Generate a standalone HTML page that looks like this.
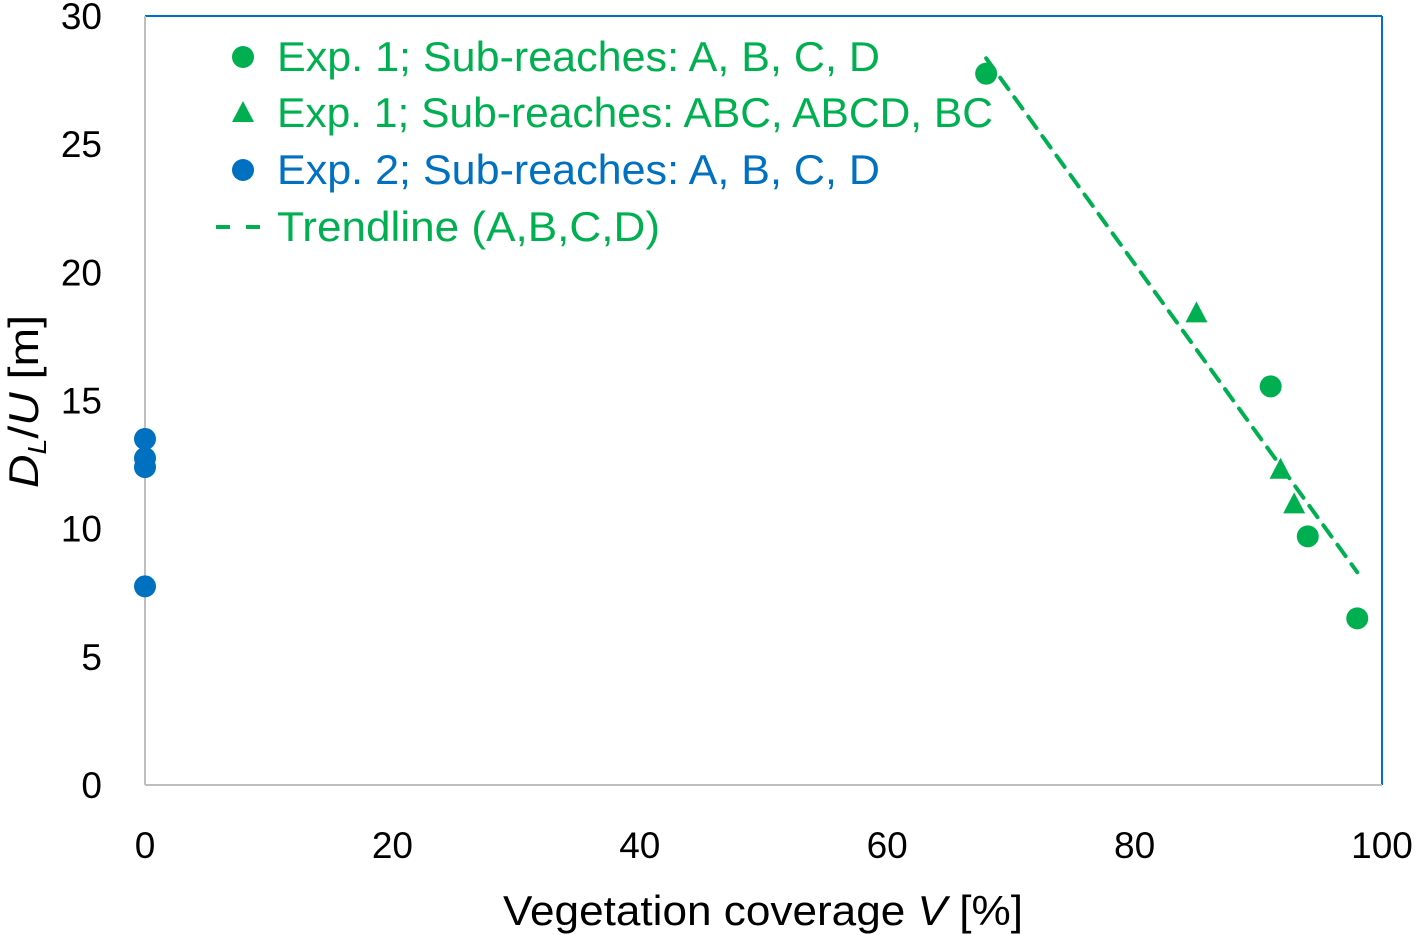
<!DOCTYPE html>
<html><head><meta charset="utf-8"><style>
body{margin:0;background:#fff;}
svg{display:block;font-family:"Liberation Sans",sans-serif;}
</style></head><body>
<svg id="chart" width="1416" height="935" viewBox="0 0 1416 935">
<g id="axes"></g>
<g id="marks"></g>
<g id="legend"></g>
</svg>
<script>
const xTicks=[0,20,40,60,80,100];
const yTicks=[0,5,10,15,20,25,30];
const exp1CircleX=[68,91,94,98];
const exp1CircleY=[27.75,15.55,9.7,6.5];
const exp1TriX=[85,91.8,92.9];
const exp1TriY=[18.4,12.3,10.95];
const exp2X=[0,0,0,0];
const exp2Y=[13.5,12.75,12.4,7.75];
const trendX=[68,98];
const trendY=[28.35,8.3];

const GREEN="#00b050",BLUE="#0070c0",NS="http://www.w3.org/2000/svg";
const L=145,R=1382,T=16,B=785;
const sx=v=>L+(v-0)/(100-0)*(R-L);
const sy=v=>B-(v-0)/(30-0)*(B-T);
function mk(tag,attrs,parent,text){const e=document.createElementNS(NS,tag);for(const k in attrs)e.setAttribute(k,attrs[k]);if(text!==undefined)e.textContent=text;parent.appendChild(e);return e;}
const axes=document.getElementById('axes'),marks=document.getElementById('marks'),leg=document.getElementById('legend');

let e;
e=mk('line',{x1:L,y1:T,x2:R,y2:T,stroke:BLUE,'stroke-width':2},axes);


e=mk('line',{x1:R,y1:T,x2:R,y2:B,stroke:BLUE,'stroke-width':2},axes);


e=mk('line',{x1:L,y1:T,x2:L,y2:B,stroke:"#bfbfbf",'stroke-width':2},axes);


e=mk('line',{x1:L,y1:B,x2:R,y2:B,stroke:"#bfbfbf",'stroke-width':2},axes);



xTicks.forEach(t=>{
 e=mk('text',{x:sx(t),y:858,'text-anchor':'middle','font-size':37,fill:'#000'},axes,String(t));
 
 
});
yTicks.forEach(t=>{
 e=mk('text',{x:102,y:sy(t)+13,'text-anchor':'end','font-size':37,fill:'#000'},axes,String(t));
 
 
});
e=mk('text',{x:503,y:925,'font-size':42,fill:'#000',textLength:520,lengthAdjust:'spacingAndGlyphs'},axes);
e.innerHTML='Vegetation coverage <tspan font-style="italic">V</tspan> [%]';


e=mk('text',{transform:'translate(38,488) rotate(-90)','font-size':42,fill:'#000',textLength:173,lengthAdjust:'spacingAndGlyphs'},axes);
e.innerHTML='<tspan font-style="italic">D</tspan><tspan font-style="italic" font-size="26" dy="8">L</tspan><tspan dy="-8">/</tspan><tspan font-style="italic">U</tspan> [m]';



e=mk('line',{x1:sx(trendX[0]),y1:sy(trendY[0]),x2:sx(trendX[1]),y2:sy(trendY[1]),stroke:GREEN,'stroke-width':4,'stroke-dasharray':'14 10','stroke-linecap':'round'},marks);



exp1CircleX.forEach((x,i)=>{
 e=mk('circle',{cx:sx(x),cy:sy(exp1CircleY[i]),r:11,fill:GREEN},marks);
 
 
});
exp1TriX.forEach((x,i)=>{
 const cx=sx(x),cy=sy(exp1TriY[i]);
 e=mk('polygon',{points:`${cx},${cy-12} ${cx+11},${cy+9} ${cx-11},${cy+9}`,fill:GREEN},marks);
 
 
});
exp2X.forEach((x,i)=>{
 e=mk('circle',{cx:sx(x),cy:sy(exp2Y[i]),r:11,fill:BLUE},marks);
 
 
});

const legItems=[["circle",GREEN,"Exp. 1; Sub-reaches: A, B, C, D",57,603],["tri",GREEN,"Exp. 1; Sub-reaches: ABC, ABCD, BC",113,716],["circle",BLUE,"Exp. 2; Sub-reaches: A, B, C, D",170,603],["dash",GREEN,"Trendline (A,B,C,D)",227,383]];
legItems.forEach(it=>{
 const [kind,col,label,y,w]=it;
 if(kind==="circle"){e=mk('circle',{cx:243,cy:y,r:11,fill:col},leg);}
 else if(kind==="tri"){e=mk('polygon',{points:`243,${y-12} 254,${y+9} 232,${y+9}`,fill:col},leg);}
 else{e=mk('path',{d:`M216 ${y}h14M246 ${y}h14`,stroke:col,'stroke-width':4},leg);}
 
 
 e=mk('text',{x:277,y:y+14,'font-size':42,fill:col,textLength:w,lengthAdjust:'spacingAndGlyphs'},leg,label);
 
 
});
</script>
</body></html>
